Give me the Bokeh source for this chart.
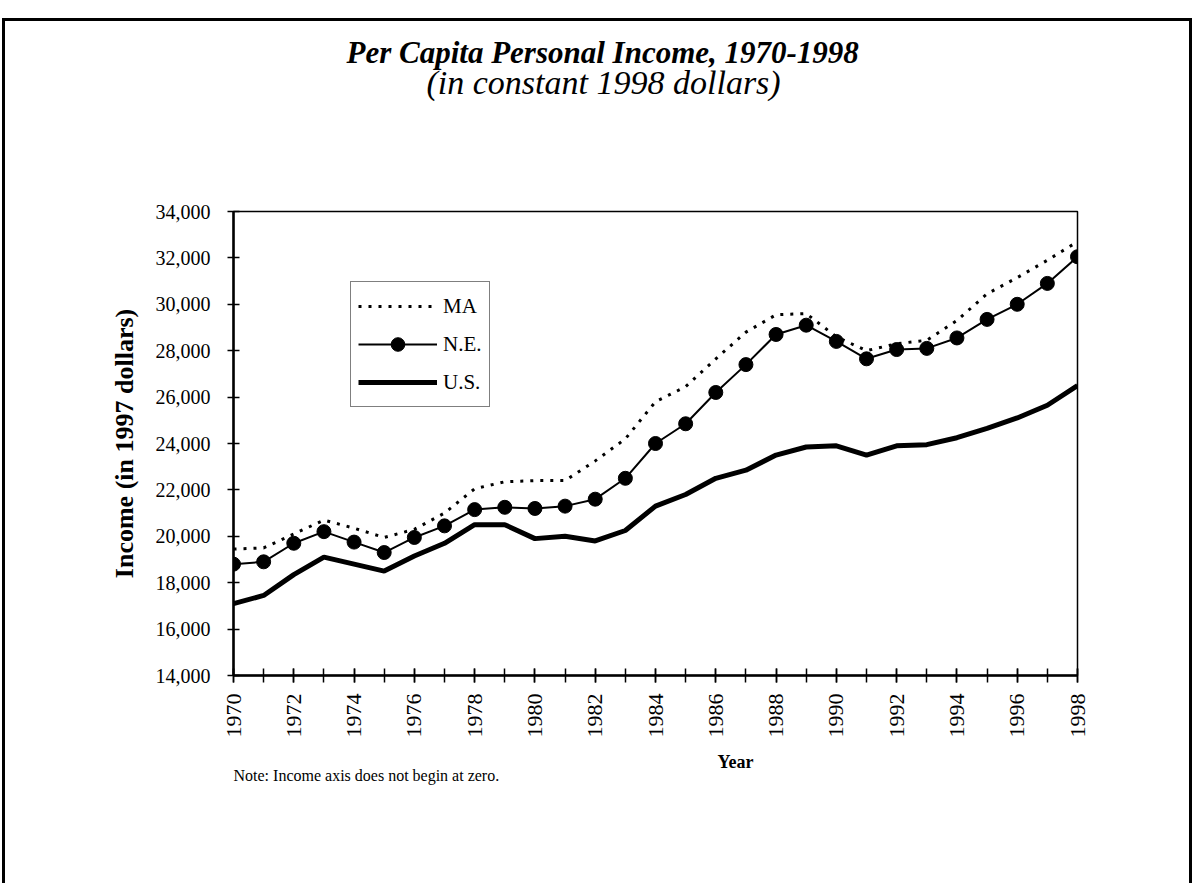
import math
from bokeh.plotting import figure
from bokeh.models import (Range1d, FixedTicker, NumeralTickFormatter, Legend,
                          LegendItem, Title)
from bokeh.embed import file_html
from bokeh.resources import INLINE

# ---------------- data ----------------
years = list(range(1970, 1999))
ma = [19450, 19500, 20100, 20700, 20350, 19950, 20300, 21000, 22050, 22350,
      22400, 22400, 23250, 24200, 25800, 26450, 27650, 28800, 29550, 29600,
      28600, 28000, 28300, 28450, 29300, 30450, 31150, 31900, 32700]
ne = [18800, 18900, 19700, 20200, 19750, 19300, 19950, 20450, 21150, 21250,
      21200, 21300, 21600, 22500, 24000, 24850, 26200, 27400, 28700, 29100,
      28400, 27650, 28050, 28100, 28550, 29350, 30000, 30900, 32050]
us = [17100, 17450, 18350, 19100, 18800, 18500, 19150, 19700, 20500, 20500,
      19900, 20000, 19800, 20250, 21300, 21800, 22500, 22850, 23500, 23850,
      23900, 23500, 23900, 23950, 24250, 24650, 25100, 25650, 26500]
x_label_years = years[::2]
y_ticks = list(range(14000, 34001, 2000))
series_labels = ["MA", "N.E.", "U.S."]

title_text = "Per Capita Personal Income, 1970-1998"
subtitle_text = "(in constant 1998 dollars)"
y_title = "Income (in 1997 dollars)"
x_title = "Year"
note_text = "Note: Income axis does not begin at zero."

FONT = "Liberation Serif"

p = figure(width=1190, height=865, output_backend="svg", toolbar_location=None,
           title=None,
           x_range=Range1d(1970, 1998), y_range=Range1d(14000, 34000),
           min_border_left=228, min_border_right=118,
           min_border_top=0, min_border_bottom=211)
p.styles = {"border-left": "3px solid black", "border-top": "3px solid black",
            "border-right": "3px solid black", "margin-top": "18px",
            "margin-left": "2px"}
p.xgrid.visible = False
p.ygrid.visible = False
p.outline_line_color = "black"
p.outline_line_width = 1.5
p.background_fill_color = "white"
p.border_fill_color = "white"

# axes
xa = p.xaxis[0]
ya = p.yaxis[0]
for ax in (xa, ya):
    ax.axis_line_color = "black"
    ax.axis_line_width = 2.5
    ax.major_tick_line_color = "black"
    ax.major_tick_line_width = 1.5
    ax.major_label_text_font = FONT
    ax.major_label_text_color = "black"

xa.ticker = FixedTicker(ticks=x_label_years, minor_ticks=years)
xa.major_tick_in = 7
xa.major_tick_out = 7
xa.minor_tick_in = 7
xa.minor_tick_out = 7
xa.minor_tick_line_color = "black"
xa.minor_tick_line_width = 1.5
xa.major_label_orientation = math.pi / 2
xa.major_label_standoff = 11
xa.major_label_text_font_size = "22px"

ya.ticker = FixedTicker(ticks=y_ticks, minor_ticks=[])
ya.formatter = NumeralTickFormatter(format="0,0")
ya.major_tick_in = 6
ya.major_tick_out = 6
ya.minor_tick_line_color = None
ya.major_label_standoff = 17
ya.major_label_text_font_size = "20px"
ya.axis_label = y_title
ya.axis_label_text_font = FONT
ya.axis_label_text_font_style = "bold"
ya.axis_label_text_font_size = "26px"
ya.axis_label_text_color = "black"
ya.axis_label_standoff = 14

# series
r_ma = p.line(years, ma, line_color="black", line_width=3, line_dash="3 7")
r_ne_l = p.line(years, ne, line_color="black", line_width=2)
r_ne_c = p.scatter(years, ne, marker="circle", size=14,
                   fill_color="black", line_color="black")
r_us = p.line(years, us, line_color="black", line_width=5)

legend = Legend(items=[LegendItem(label=series_labels[0], renderers=[r_ma]),
                       LegendItem(label=series_labels[1], renderers=[r_ne_l, r_ne_c]),
                       LegendItem(label=series_labels[2], renderers=[r_us])],
                location=(117, 268), glyph_width=79, glyph_height=34,
                spacing=4, padding=7, label_standoff=6, margin=0,
                label_text_font=FONT, label_text_font_size="21px",
                label_text_color="black",
                border_line_color="black", border_line_width=1.5,
                background_fill_color="white", background_fill_alpha=1)
p.add_layout(legend)

# titles above (first added = closest to the frame)
p.add_layout(Title(text=" ", text_font=FONT, text_font_size="1px",
                   standoff=111, text_color="white"), "above")
p.add_layout(Title(text=subtitle_text, text_font=FONT, text_font_style="italic",
                   text_font_size="34px", align="left", offset=193,
                   standoff=-7, text_color="black"), "above")
p.add_layout(Title(text=title_text, text_font=FONT, text_font_style="bold italic",
                   text_font_size="31px", align="left", offset=113,
                   standoff=-8, text_color="black"), "above")
p.add_layout(Title(text=" ", text_font=FONT, text_font_size="1px",
                   standoff=12, text_color="white"), "above")

# texts below (first added = closest to the frame)
p.add_layout(Title(text=" ", text_font=FONT, text_font_size="1px",
                   standoff=6, text_color="white"), "below")
p.add_layout(Title(text=x_title, text_font=FONT, text_font_style="bold",
                   text_font_size="18px", align="left", offset=484,
                   standoff=0, text_color="black"), "below")
p.add_layout(Title(text=note_text, text_font=FONT, text_font_style="normal",
                   text_font_size="16px", align="left", offset=0,
                   standoff=-13, text_color="black"), "below")

open("out.html", "w").write(file_html(p, INLINE))
